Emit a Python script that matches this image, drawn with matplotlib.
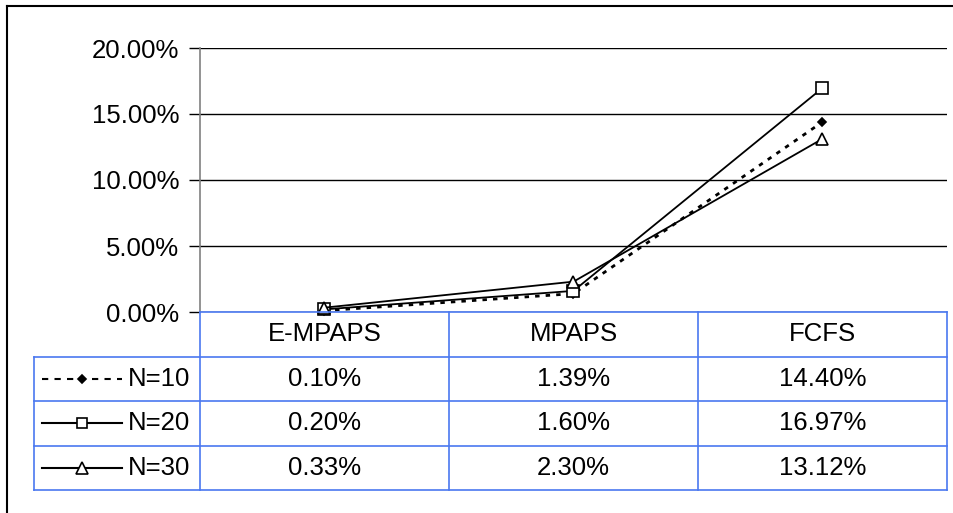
import matplotlib.pyplot as plt
import matplotlib.ticker as ticker
from matplotlib.lines import Line2D

plt.rcParams['font.family'] = ['Liberation Sans', 'DejaVu Sans']

categorias = ['E-MPAPS', 'MPAPS', 'FCFS']
series = ['N=10', 'N=20', 'N=30']
n10 = [0.0010, 0.0139, 0.1440]
n20 = [0.0020, 0.0160, 0.1697]
n30 = [0.0033, 0.0230, 0.1312]
valores = [n10, n20, n30]
estilos = [dict(ls=(0, (1.6, 2.2)), lw=2.0, marker='D', ms=4.5, mfc='black'),
           dict(ls='-', lw=1.3, marker='s', ms=8, mfc='white'),
           dict(ls='-', lw=1.3, marker='^', ms=9, mfc='white')]

W, H = 954, 513
fig = plt.figure(figsize=(W / 100, H / 100), dpi=100)

def caja(x0, y0, x1, y1):
    # caja en pixeles (origen arriba-izquierda) -> fraccion de figura
    return [x0 / W, 1 - y1 / H, (x1 - x0) / W, (y1 - y0) / H]

azul = '#4a78f0'

# marco exterior (solo arriba e izquierda visibles)
fig.add_artist(Line2D([7 / W, 7 / W], [0, 1 - 6 / H], transform=fig.transFigure, color='black', lw=1.5))
fig.add_artist(Line2D([7 / W, 1], [1 - 6 / H, 1 - 6 / H], transform=fig.transFigure, color='black', lw=1.5))

ax = fig.add_axes(caja(200, 48, 947, 312))
x = range(len(categorias))
for v, est in zip(valores, estilos):
    ax.plot(x, v, color='black', mec='black', mew=1.2, zorder=3, clip_on=False, **est)
ax.set_xlim(-0.5, len(categorias) - 0.5)
ax.set_ylim(0, 0.2)
ax.yaxis.set_major_locator(ticker.MultipleLocator(0.05))
ax.yaxis.set_major_formatter(ticker.FuncFormatter(lambda v, p: '{:.2f}%'.format(v * 100)))
ax.tick_params(axis='y', direction='out', length=8, width=1, labelsize=18.5, pad=7, colors='black')
ax.set_xticks([])
ax.grid(axis='y', color='black', lw=1)
for s in ['top', 'right', 'bottom']:
    ax.spines[s].set_visible(False)
ax.spines['left'].set_color('#808080')
ax.spines['left'].set_linewidth(1.2)
ax.axhline(0, color=azul, lw=1.2, zorder=4, clip_on=False)

# tabla de datos
tx = fig.add_axes(caja(200, 312, 947, 490))
tx.set_xlim(-0.5, len(categorias) - 0.5)
tx.set_ylim(len(series) + 1, 0)
tx.axis('off')
izq = -0.5 - 166 / 249
kw = dict(color=azul, lw=1.2, clip_on=False)
for i in range(len(categorias) + 1):
    tx.plot([i - 0.5, i - 0.5], [0, len(series) + 1], **kw)
for j in range(1, len(series) + 2):
    tx.plot([izq, len(categorias) - 0.5], [j, j], **kw)
tx.plot([izq, izq], [1, len(series) + 1], **kw)
for i, c in enumerate(categorias):
    tx.text(i, 0.5, c, ha='center', va='center', fontsize=18.5)
for j, (nombre, v, est) in enumerate(zip(series, valores, estilos)):
    y = j + 1.5
    for i, val in enumerate(v):
        tx.text(i, y, '{:.2f}%'.format(val * 100), ha='center', va='center', fontsize=18.5)
    tx.text(-0.5 - 10 / 249, y, nombre, ha='right', va='center', fontsize=18.5)
    x0 = izq + 8 / 249
    x1 = izq + 88 / 249
    ls_key = (0, (3, 3)) if est['ls'] != '-' else '-'
    tx.plot([x0, x1], [y, y], color='black', lw=1.5, ls=ls_key, clip_on=False)
    tx.plot([(x0 + x1) / 2], [y], color='black', marker=est['marker'], ms=est['ms'] * 0.9,
            mfc=est['mfc'], mec='black', mew=1.2, clip_on=False)

fig.savefig('out.png', dpi=100)
